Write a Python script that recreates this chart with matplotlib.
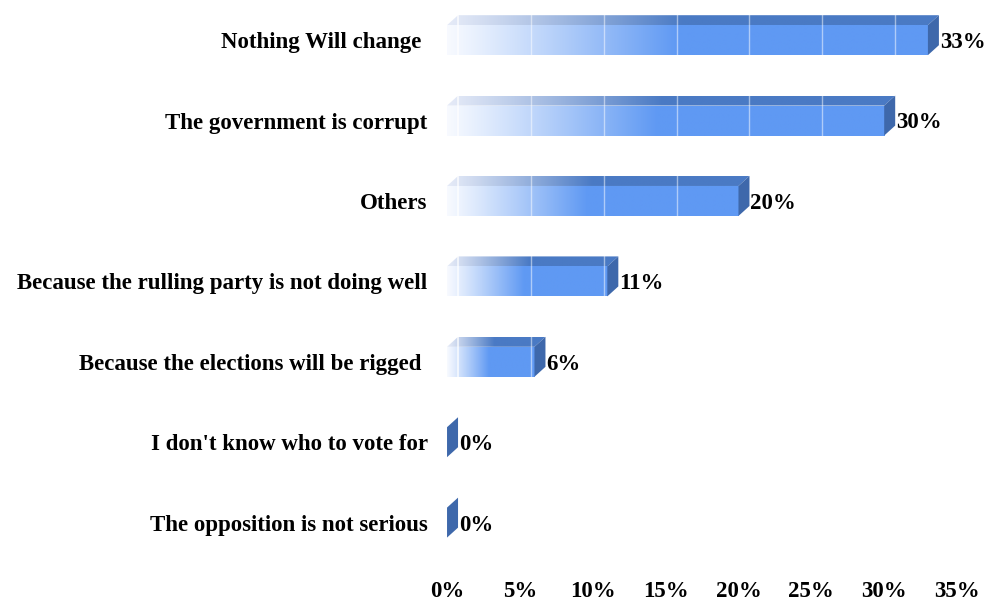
import matplotlib
matplotlib.use("Agg")
import matplotlib.pyplot as plt
import numpy as np
from matplotlib.patches import Polygon
from matplotlib.colors import to_rgb

# survey answers, top to bottom
reasons = ["Nothing Will change ", "The government is corrupt", "Others",
           "Because the rulling party is not doing well",
           "Because the elections will be rigged ",
           "I don't know who to vote for", "The opposition is not serious"]
shares = [33, 30, 20, 11, 6, 0, 0]
ticks = [0, 5, 10, 15, 20, 25, 30, 35]

plt.rcParams["font.family"] = ["Liberation Serif", "DejaVu Serif"]
plt.rcParams["font.weight"] = "bold"
FS = 16.5

# fake 3d look: back plane is shifted right and up
DX = 0.755        # depth shift along x (data units)
DY = 0.124        # depth shift along y (data units, up)
H = 0.373         # front face height

front_blue = np.array(to_rgb("#5f99f3"))
top_blue = np.array(to_rgb("#4a7ac4"))
side_col = "#3e68ab"
pale_front = np.array([0.97, 0.98, 1.0])
pale_top = np.array([0.90, 0.92, 0.97])


def ramp(c0, c1, n=256, reach=0.48):
    t = np.linspace(0, 1, n)
    s = np.clip(t / reach, 0, 1) ** 1.1
    return (c0[None, :] * (1 - s[:, None]) + c1[None, :] * s[:, None])[None, :, :]


fig = plt.figure(figsize=(9.89, 6.03), dpi=100)
ax = fig.add_axes([0.452, 0.06, 0.5157, 0.9334])

for i, v in enumerate(shares):
    top = i - H / 2
    bot = i + H / 2
    if v > 0:
        # front face
        ax.imshow(ramp(pale_front, front_blue), extent=(0, v, bot, top),
                  aspect="auto", interpolation="bilinear", zorder=2)
        # top face
        poly = Polygon([(0, top), (v, top), (v + DX, top - DY), (DX, top - DY)],
                       closed=True, facecolor="none", edgecolor="none")
        ax.add_patch(poly)
        im = ax.imshow(ramp(pale_top, top_blue), extent=(0, v + DX, top, top - DY),
                       aspect="auto", interpolation="bilinear", zorder=2)
        im.set_clip_path(poly)
        # white grid lines of the back wall seen through the bar
        for g in ticks[1:]:
            gx = DX + g
            if gx < v:
                ax.plot([gx, gx], [top - DY, bot], color="white", lw=1.0,
                        alpha=0.5, zorder=3)
        ax.plot([DX, DX], [top - DY, bot], color="white", lw=1.2, alpha=0.8, zorder=3)
    # right end face
    ax.add_patch(Polygon([(v, top), (v, bot), (v + DX, bot - DY), (v + DX, top - DY)],
                         closed=True, facecolor=side_col, edgecolor="none", zorder=2))
    ax.text(v + DX + 0.05, i + 0.03, f"{v}%", ha="left", va="center", fontsize=FS,
            fontweight="bold", zorder=5)

ax.set_xlim(0, 35)
ax.set_ylim(6.55, -0.45)
ax.set_xticks(ticks)
ax.set_xticklabels([f"{t}%" for t in ticks], fontsize=FS, fontweight="bold")
ax.set_yticks(range(len(reasons)))
ax.set_yticklabels(reasons, fontsize=FS, fontweight="bold")
ax.tick_params(axis="x", length=0, pad=10)
ax.tick_params(axis="y", length=0, pad=14)
for s in ax.spines.values():
    s.set_visible(False)

fig.savefig("out.png", dpi=100, facecolor="white")
